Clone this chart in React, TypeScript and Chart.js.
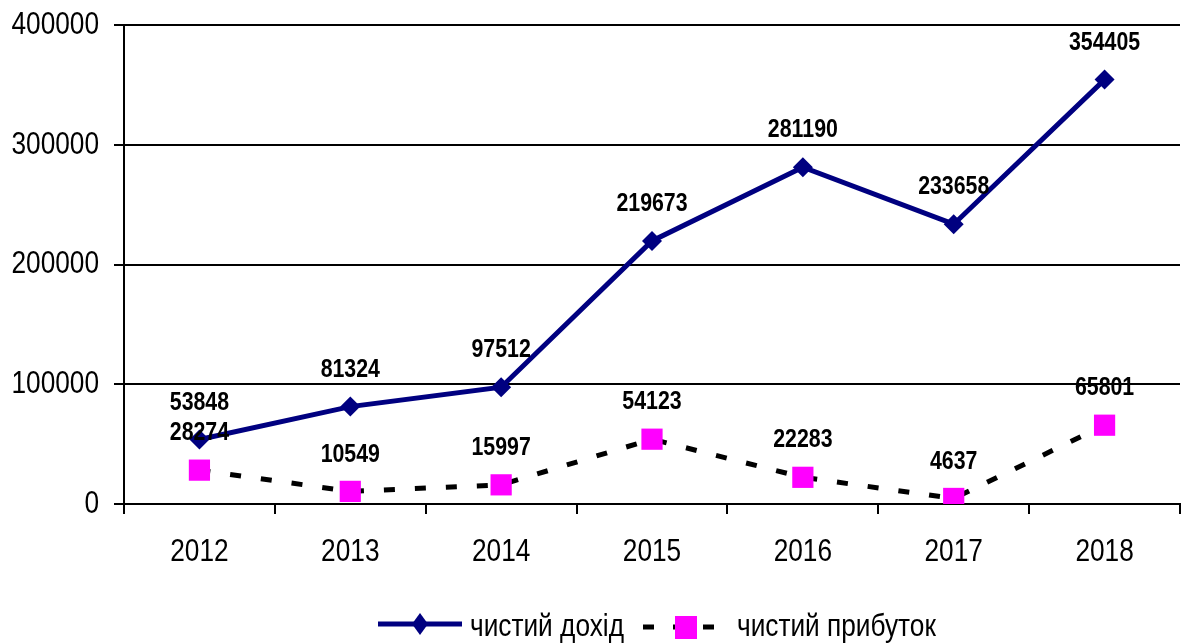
import React, { useEffect, useRef } from "react";
import { Chart, registerables } from "chart.js";

Chart.register(...registerables);

const categories = ["2012", "2013", "2014", "2015", "2016", "2017", "2018"];
const incomeValues = [53848, 81324, 97512, 219673, 281190, 233658, 354405];
const profitValues = [28274, 10549, 15997, 54123, 22283, 4637, 65801];
const incomeLabel = "чистий дохід";
const profitLabel = "чистий прибуток";
const yTicks = [0, 100000, 200000, 300000, 400000];

const NAVY = "#000080";
const MAGENTA = "#ff00ff";
const FONT = "'Liberation Sans', Arial, sans-serif";
const NARROW = 0.82;

function narrowText(ctx: CanvasRenderingContext2D, text: string, x: number, y: number, align: CanvasTextAlign, font: string) {
  ctx.save();
  ctx.font = font;
  ctx.fillStyle = "#000";
  ctx.textAlign = align;
  ctx.textBaseline = "middle";
  ctx.translate(x, y);
  ctx.scale(NARROW, 1);
  ctx.fillText(text, 0, 0);
  ctx.restore();
}

const labelsPlugin = {
  id: "valueLabels",
  afterDatasetsDraw(chart: any) {
    const ctx = chart.ctx;
    chart.data.datasets.forEach((ds: any, i: number) => {
      const meta = chart.getDatasetMeta(i);
      meta.data.forEach((pt: any, j: number) => {
        narrowText(ctx, String(ds.data[j]), pt.x, pt.y - 37, "center", `bold 26px ${FONT}`);
      });
    });
  },
};

const axisTextPlugin = {
  id: "axisText",
  afterDraw(chart: any) {
    const ctx = chart.ctx;
    const ys = chart.scales.y;
    yTicks.forEach((v) => {
      narrowText(ctx, String(v), 99, ys.getPixelForValue(v), "right", `32px ${FONT}`);
    });
    const xs = chart.scales.x;
    categories.forEach((c, i) => {
      narrowText(ctx, c, xs.getPixelForValue(i), 552, "center", `32px ${FONT}`);
    });
  },
};

const legendPlugin = {
  id: "customLegend",
  afterDraw(chart: any) {
    const ctx = chart.ctx;
    const y = 624;
    ctx.save();
    ctx.strokeStyle = NAVY;
    ctx.lineWidth = 5;
    ctx.beginPath();
    ctx.moveTo(378, y);
    ctx.lineTo(462, y);
    ctx.stroke();
    ctx.fillStyle = NAVY;
    ctx.beginPath();
    ctx.moveTo(420, y - 11);
    ctx.lineTo(428, y);
    ctx.lineTo(420, y + 11);
    ctx.lineTo(412, y);
    ctx.closePath();
    ctx.fill();
    ctx.strokeStyle = "#000";
    ctx.lineWidth = 5;
    ctx.setLineDash([11, 19]);
    ctx.beginPath();
    ctx.moveTo(643, y + 3);
    ctx.lineTo(717, y + 3);
    ctx.stroke();
    ctx.setLineDash([]);
    ctx.fillStyle = MAGENTA;
    ctx.fillRect(675, y - 8, 22, 23);
    ctx.restore();
    narrowText(ctx, incomeLabel, 470, y + 3, "left", `32px ${FONT}`);
    narrowText(ctx, profitLabel, 737, y + 3, "left", `32px ${FONT}`);
  },
};

export default function App() {
  const ref = useRef<HTMLCanvasElement | null>(null);
  useEffect(() => {
    if (!ref.current) return;
    const chart = new Chart(ref.current, {
      type: "line",
      data: {
        labels: categories,
        datasets: [
          {
            label: incomeLabel,
            data: incomeValues,
            borderColor: NAVY,
            backgroundColor: NAVY,
            borderWidth: 5,
            pointStyle: "rectRot",
            pointRadius: 10,
            pointBackgroundColor: NAVY,
            pointBorderColor: NAVY,
            pointBorderWidth: 0,
            tension: 0,
          },
          {
            label: profitLabel,
            data: profitValues,
            borderColor: "#000",
            backgroundColor: MAGENTA,
            borderWidth: 5,
            borderDash: [11, 20],
            pointStyle: "rect",
            pointRadius: 15,
            pointBackgroundColor: MAGENTA,
            pointBorderColor: MAGENTA,
            pointBorderWidth: 0,
            tension: 0,
          },
        ],
      },
      options: {
        animation: false,
        responsive: false,
        layout: { padding: { left: 0, right: 5, top: 25, bottom: 0 } },
        plugins: {
          legend: { display: false },
          tooltip: { enabled: false },
        },
        scales: {
          x: {
            offset: true,
            grid: {
              offset: true,
              drawOnChartArea: false,
              drawTicks: true,
              tickLength: 10,
              color: "#000",
              lineWidth: 2,
            },
            border: { display: true, color: "#000", width: 2 },
            ticks: {
              color: "rgba(0,0,0,0)",
              font: { family: FONT, size: 20 },
              padding: 14,
            },
            afterFit(scale: any) {
              scale.height = 140;
            },
          },
          y: {
            min: 0,
            max: 400000,
            afterBuildTicks(scale: any) {
              scale.ticks = yTicks.map((v) => ({ value: v }));
            },
            grid: {
              color: "#000",
              lineWidth: 2,
              drawTicks: true,
              tickLength: 10,
            },
            border: { display: true, color: "#000", width: 2 },
            ticks: {
              color: "rgba(0,0,0,0)",
              font: { family: FONT, size: 20 },
              padding: 5,
              callback: (v: any) => String(v),
            },
            afterFit(scale: any) {
              scale.width = 124;
            },
          },
        },
      },
      plugins: [labelsPlugin, axisTextPlugin, legendPlugin],
    });
    return () => chart.destroy();
  }, []);
  return (
    <div style={{ position: "fixed", left: 0, top: 0, width: 1195, height: 644, background: "#fff" }}>
      <canvas ref={ref} width={1195} height={644} style={{ width: 1195, height: 644 }} />
    </div>
  );
}
